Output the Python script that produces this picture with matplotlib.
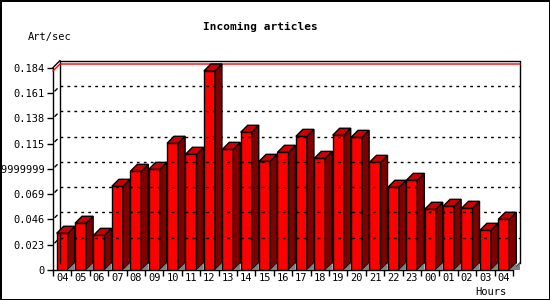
import matplotlib
matplotlib.use("Agg")
import matplotlib.pyplot as plt
from matplotlib.patches import Polygon
import numpy as np

# data
hours = ["04", "05", "06", "07", "08", "09", "10", "11", "12", "13", "14", "15",
         "16", "17", "18", "19", "20", "21", "22", "23", "00", "01", "02", "03", "04"]
art_sec = [0.0334, 0.0425, 0.0315, 0.0761, 0.0897, 0.0915, 0.1152, 0.1052, 0.1809,
           0.1097, 0.1252, 0.0988, 0.1070, 0.1215, 0.1015, 0.1225, 0.1206, 0.0979,
           0.0752, 0.0815, 0.0552, 0.0579, 0.0561, 0.0361, 0.0461]
yticks = [0, 0.023, 0.046, 0.069, 0.092, 0.115, 0.138, 0.161, 0.184]
ytick_labels = ["0", "0.023", "0.046", "0.069", "0.09199999999999999",
                "0.115", "0.138", "0.161", "0.184"]

plt.rcParams["font.family"] = "DejaVu Sans Mono"

fig = plt.figure(figsize=(5.5, 3), dpi=100)
fig.patch.set_facecolor("white")
fig.patch.set_edgecolor("black")
fig.patch.set_linewidth(2)

ax = fig.add_axes([53 / 550, 30 / 300, 460 / 550, 202.4 / 300])
ax.set_facecolor("none")
x = np.arange(len(hours))
ax.set_xlim(-0.5, len(hours) - 0.5)
ax.set_ylim(0, 0.184)

# depth of the 3d effect in pixels
dx, dy = 7, 7

def to_px(px, py):
    return ax.transData.transform((px, py))

def draw_px(pts, **kw):
    poly = Polygon(pts, closed=True, transform=None, clip_on=False, **kw)
    fig.add_artist(poly)

fig.canvas.draw()

# back wall
x0, y0 = to_px(-0.5, 0)
x1, y1 = to_px(len(hours) - 0.5, 0.184)
wall = [(x0 + dx, y0 + dy), (x0 + dx, y1 + dy), (x1 + dx, y1 + dy), (x1 + dx, y0 + dy)]
fig.add_artist(plt.Line2D([p[0] for p in wall], [p[1] for p in wall],
                          transform=None, color="black", lw=1, zorder=1))
# side wall top diagonal and floor right diagonal
fig.add_artist(plt.Line2D([x0, x0 + dx], [y1, y1 + dy], transform=None, color="black", lw=1, zorder=1))
fig.add_artist(plt.Line2D([x1, x1 + dx], [y0, y0 + dy], transform=None, color="black", lw=1, zorder=1))
draw_px([(x1, y0), (x1 + dx, y0 + dy), (x1 + dx, y0)], facecolor="#808080", edgecolor="none", zorder=1)

# grid lines on the back wall
for t in yticks[1:-1]:
    _, yy = to_px(0, t)
    fig.add_artist(plt.Line2D([x0 + dx, x1 + dx], [yy + dy, yy + dy], transform=None,
                              color="black", lw=1, ls=(0, (2, 3)), zorder=1))
    fig.add_artist(plt.Line2D([x0 + 2, x0 + 4], [yy + 2, yy + 4], transform=None,
                              color="black", lw=1, zorder=1))

# max line
_, ym = to_px(0, max(art_sec))
fig.add_artist(plt.Line2D([x0, x0 + dx, x1 + dx], [ym, ym + dy, ym + dy], transform=None,
                          color="red", lw=1, zorder=1))

# bars with side and top faces
w = 0.6
bars = ax.bar(x, art_sec, width=w, color="#ff0000", edgecolor="black", linewidth=1, zorder=3)
for xi, v in zip(x, art_sec):
    lx, by = to_px(xi - w / 2, 0)
    rx, ty = to_px(xi + w / 2, v)
    draw_px([(rx, by), (rx + dx, by + dy), (rx + dx, ty + dy), (rx, ty)],
            facecolor="#800000", edgecolor="black", lw=1, zorder=2)
    draw_px([(rx, by), (rx + dx, by + dy), (rx + dx, by)],
            facecolor="#808080", edgecolor="none", zorder=2)
    draw_px([(lx, ty), (lx + dx, ty + dy), (rx + dx, ty + dy), (rx, ty)],
            facecolor="#cc0000", edgecolor="black", lw=1, zorder=2)

for s in ["top", "right"]:
    ax.spines[s].set_visible(False)
ax.spines["left"].set_linewidth(1)
ax.spines["bottom"].set_linewidth(1)

ax.set_yticks(yticks)
ax.set_yticklabels(ytick_labels, fontsize=7.5)
ax.tick_params(axis="y", length=4, width=1, pad=2)

ax.set_xticks(np.arange(len(hours) + 1) - 0.5)
ax.set_xticklabels([])
ax.tick_params(axis="x", which="major", length=4, width=1)
ax.set_xticks(x, minor=True)
ax.set_xticklabels(hours, minor=True, fontsize=7.5)
ax.tick_params(axis="x", which="minor", length=0, pad=2)

fig.text(260 / 550, 1 - 27 / 300, "Incoming articles", ha="center", va="center",
         fontsize=8, fontweight="bold")
fig.text(28 / 550, 1 - 37 / 300, "Art/sec", ha="left", va="center", fontsize=7.5)
fig.text(507 / 550, 1 - 292 / 300, "Hours", ha="right", va="center", fontsize=7.5)

fig.savefig("out.png", dpi=100)
